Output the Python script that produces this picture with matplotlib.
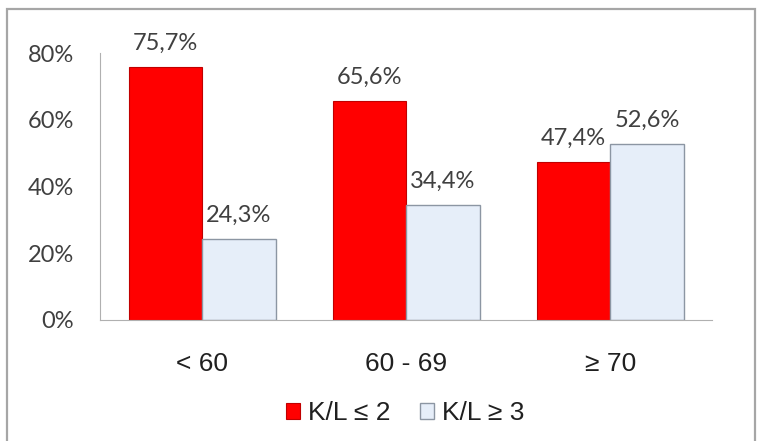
import numpy as np
import matplotlib.pyplot as plt
from matplotlib.patches import Rectangle

categories = ["< 60", "60 - 69", "≥ 70"]
kl_low = [75.7, 65.6, 47.4]
kl_high = [24.3, 34.4, 52.6]
series_names = ["K/L ≤ 2", "K/L ≥ 3"]
yticks = [0, 20, 40, 60, 80]

num_font = ["Lato", "DejaVu Sans"]
txt_font = ["Liberation Sans", "DejaVu Sans"]
grey = "#404040"

fig = plt.figure(figsize=(7.7, 4.41), dpi=100)
ax = fig.add_axes([0.13, 0.2744, 0.795, 0.6054])

# outer frame of the chart
fig.patches.append(Rectangle((0.009, -0.05), 0.972, 1.03, transform=fig.transFigure,
                             fill=False, edgecolor="#a6a6a6", linewidth=1.6))

x = np.arange(len(categories))
w = 0.36
b1 = ax.bar(x - w / 2, kl_low, w, color="#ff0000", edgecolor="#c00000", linewidth=0.8,
            label=series_names[0])
b2 = ax.bar(x + w / 2, kl_high, w, color="#e6eef9", edgecolor="#8c96a3", linewidth=1.0,
            label=series_names[1])

for bars, vals in [(b1, kl_low), (b2, kl_high)]:
    for rect, v in zip(bars, vals):
        ax.annotate(f"{v:.1f}%".replace(".", ","),
                    (rect.get_x() + rect.get_width() / 2, v),
                    xytext=(0, 17), textcoords="offset points",
                    ha="center", va="center", fontsize=17, color=grey, family=num_font)

ax.set_xlim(-0.5, 2.5)
ax.set_ylim(0, 80)
ax.set_yticks(yticks)
ax.set_yticklabels([f"{t}%" for t in yticks], family=num_font, fontsize=17, color=grey)
ax.set_xticks(x)
ax.set_xticklabels(categories, family=txt_font, fontsize=19, color="#202020")
ax.tick_params(axis="y", length=0, pad=19)
ax.tick_params(axis="x", length=0, pad=23)

for s in ["top", "right"]:
    ax.spines[s].set_visible(False)
ax.spines["left"].set_color("#b0b0b0")
ax.spines["bottom"].set_color("#b0b0b0")

leg = fig.legend(handles=[b1, b2], loc="center", bbox_to_anchor=(0.526, 0.0635), ncol=2,
                 frameon=False, prop={"family": txt_font, "size": 19}, handlelength=0.55,
                 handleheight=0.55, handletextpad=0.3, columnspacing=1.1, borderaxespad=0)
for t in leg.get_texts():
    t.set_color("#202020")

fig.savefig("out.png", dpi=100)
